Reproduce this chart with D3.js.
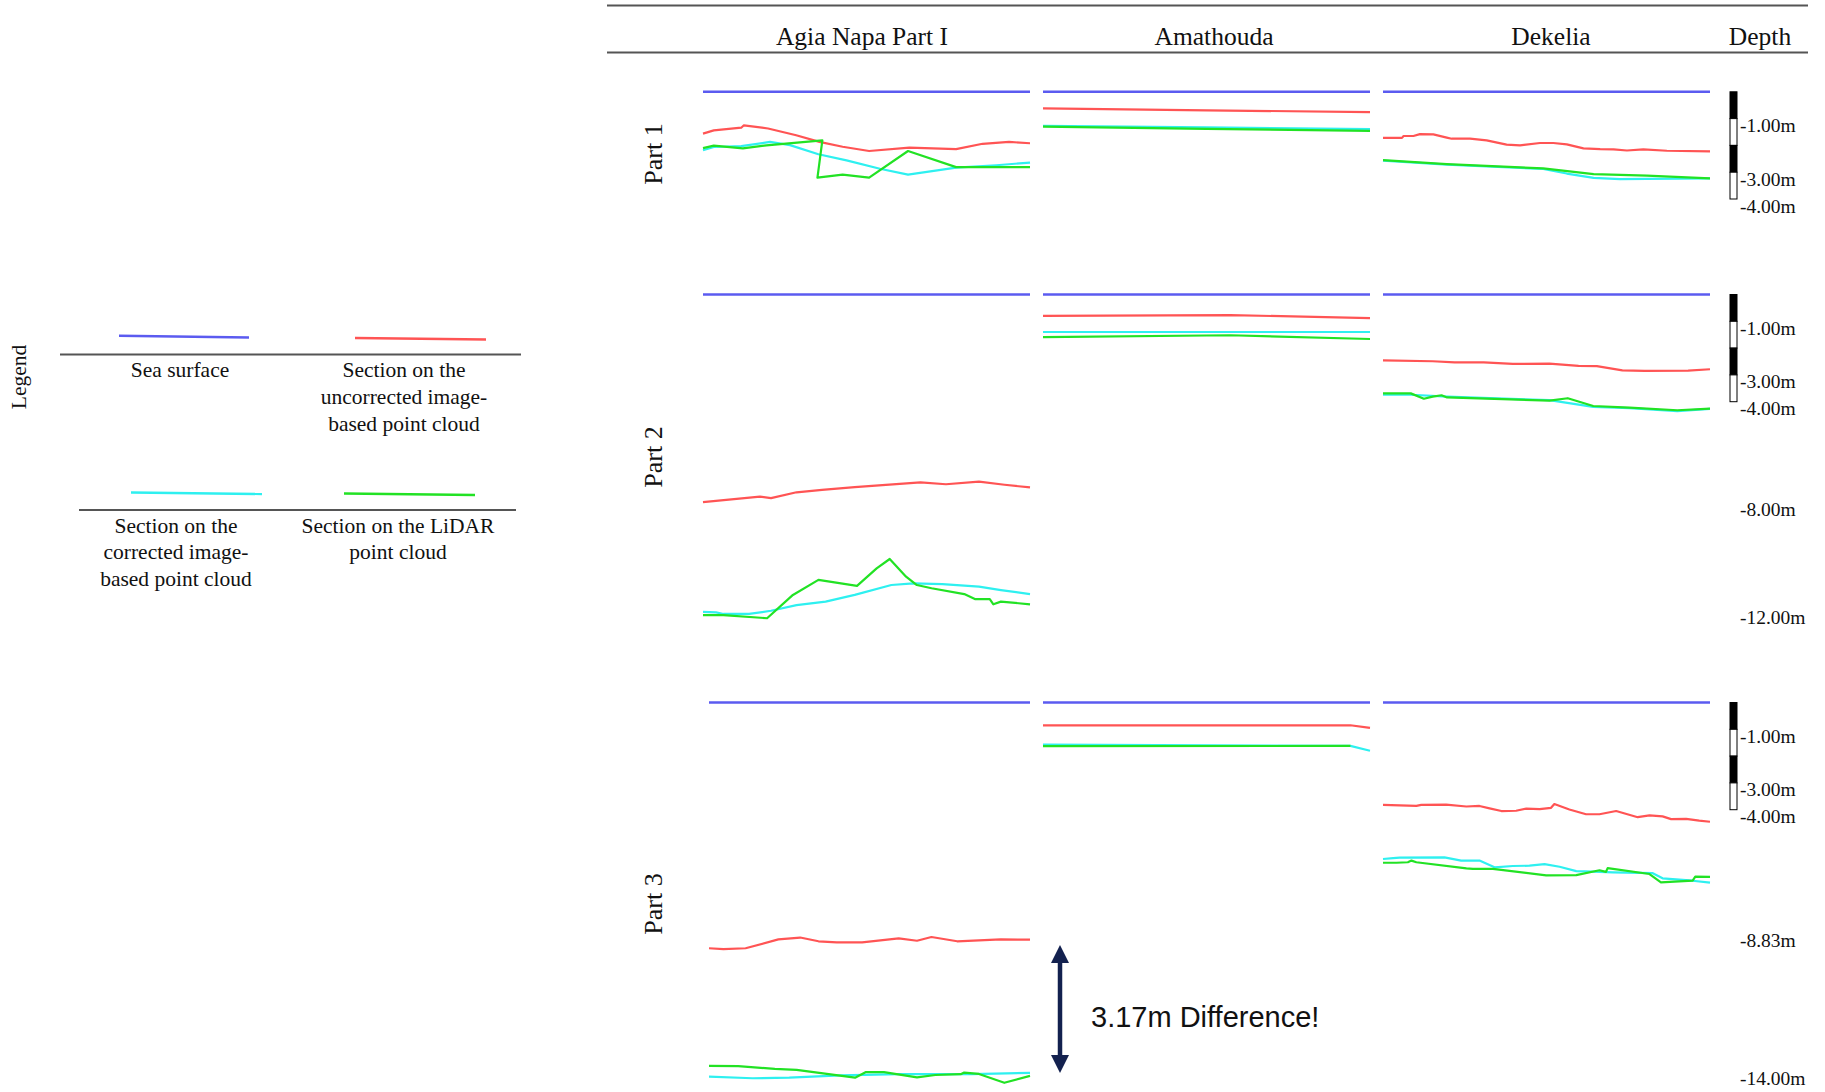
<!DOCTYPE html>
<html>
<head>
<meta charset="utf-8">
<script src="https://cdn.jsdelivr.net/npm/d3@7"></script>
<style>
  body { margin: 0; background: #fff; }
  svg text { font-family: "Liberation Serif", "Times New Roman", serif; fill: #111; }
</style>
</head>
<body>
<svg id="chart" width="1825" height="1092"></svg>
<script>
// ---- Labels ----
const sites = ["Agia Napa Part I", "Amathouda", "Dekelia"];
const parts = ["Part 1", "Part 2", "Part 3"];
const seriesNames = ["Sea surface", "Section on the uncorrected image-based point cloud",
  "Section on the corrected image-based point cloud", "Section on the LiDAR point cloud"];
const legendLines = [
  ["Sea surface"],
  ["Section on the", "uncorrected image-", "based point cloud"],
  ["Section on the", "corrected image-", "based point cloud"],
  ["Section on the LiDAR", "point cloud"]
];
const seriesColors = ["#5b5bf0", "#ff5454", "#2ef0f0", "#22e224"];

// ---- Depth axis labels per part (m) ----
const depthLabelsPart1 = [-1, -3, -4];
const depthLabelsPart2 = [-1, -3, -4, -8, -12];
const depthLabelsPart3 = [-1, -3, -4, -8.83, -14];
const scaleBarStops = [0, -1, -2, -3, -4];

// ---- Profiles: [distance along section (%), depth (m)] ----
const seaSurface = [[0, 0], [100, 0]];

// Part 1
const agia1Uncorrected = [[0,-1.56],[3.3,-1.44],[11.7,-1.34],[12.5,-1.25],[19.9,-1.37],[28.5,-1.62],[35.6,-1.87],[42.7,-2.05],[50.8,-2.21],[63.1,-2.08],[77.4,-2.14],[85.5,-1.94],[93.6,-1.87],[100,-1.92]];
const agia1Corrected = [[0,-2.18],[3.3,-2.06],[11.7,-2.03],[20.5,-1.87],[26.6,-1.99],[35.3,-2.33],[43.9,-2.56],[54.1,-2.87],[62.7,-3.09],[77.4,-2.83],[89.7,-2.74],[100,-2.64]];
const agia1Lidar = [[0,-2.10],[3.3,-2.01],[12.2,-2.11],[19.4,-2.00],[36.5,-1.81],[35.0,-3.20],[42.7,-3.09],[50.8,-3.20],[62.7,-2.21],[77.4,-2.81],[89.7,-2.81],[100,-2.81]];

const amath1Uncorrected = [[0,-0.62],[50,-0.69],[100,-0.76]];
const amath1Corrected = [[0,-1.27],[50,-1.33],[100,-1.39]];
const amath1Lidar = [[0,-1.30],[50,-1.38],[100,-1.46]];

const dek1Uncorrected = [[0,-1.72],[5.8,-1.72],[6.3,-1.65],[9.3,-1.65],[11.3,-1.58],[15.4,-1.59],[19.5,-1.71],[21.0,-1.75],[26.6,-1.75],[31.7,-1.81],[37.8,-1.97],[41.9,-2.00],[48.0,-1.91],[52.1,-1.91],[56.2,-1.96],[61.3,-2.11],[66.4,-2.14],[70.5,-2.15],[74.6,-2.19],[79.6,-2.15],[86.8,-2.20],[100,-2.22]];
const dek1Corrected = [[0,-2.57],[19.5,-2.72],[49.0,-2.88],[56.2,-3.05],[64.4,-3.21],[72.5,-3.26],[80.7,-3.25],[100,-3.23]];
const dek1Lidar = [[0,-2.55],[19.5,-2.70],[49.0,-2.86],[64.4,-3.07],[80.7,-3.13],[100,-3.23]];

// Part 2
const agia2Uncorrected = [[0,-7.75],[17.4,-7.54],[20.8,-7.60],[28.6,-7.38],[36.4,-7.29],[46.4,-7.19],[66.5,-7.01],[74.3,-7.08],[84.4,-6.98],[92.2,-7.10],[100,-7.20]];
const agia2Corrected = [[0,-11.84],[4.0,-11.86],[6.25,-11.92],[14.1,-11.92],[20.8,-11.80],[28.6,-11.59],[37.5,-11.46],[46.4,-11.21],[57.6,-10.84],[64.3,-10.78],[73.2,-10.81],[84.4,-10.90],[91.1,-11.03],[100,-11.18]];
const agia2Lidar = [[0,-11.96],[6.25,-11.96],[19.6,-12.08],[27.5,-11.21],[35.3,-10.65],[47.1,-10.87],[53.1,-10.22],[57.1,-9.87],[62.1,-10.53],[65.4,-10.84],[69.9,-10.96],[79.9,-11.18],[83.3,-11.37],[87.7,-11.37],[88.8,-11.56],[91.1,-11.46],[100,-11.56]];

const amath2Uncorrected = [[0,-0.80],[57.3,-0.77],[100,-0.88]];
const amath2Corrected = [[0,-1.40],[57.3,-1.40],[100,-1.40]];
const amath2Lidar = [[0,-1.59],[57.3,-1.52],[100,-1.66]];

const dek2Uncorrected = [[0,-2.46],[15.2,-2.49],[21.9,-2.53],[30.8,-2.53],[39.7,-2.59],[50.9,-2.58],[59.8,-2.66],[65.4,-2.67],[73.2,-2.83],[79.9,-2.85],[93.3,-2.84],[100,-2.79]];
const dek2Corrected = [[0,-3.74],[8.5,-3.74],[19.6,-3.81],[50.9,-3.94],[64.3,-4.19],[75.4,-4.24],[90.0,-4.35],[100,-4.27]];
const dek2Lidar = [[0,-3.69],[8.5,-3.69],[12.5,-3.89],[15.2,-3.81],[17.9,-3.76],[19.6,-3.84],[50.9,-3.96],[56.5,-3.87],[64.3,-4.16],[75.4,-4.22],[90.0,-4.32],[100,-4.26]];

// Part 3
const agia3Uncorrected = [[0,-9.17],[4.5,-9.20],[11.4,-9.17],[21.6,-8.84],[28.4,-8.77],[34.1,-8.91],[39.8,-8.95],[47.7,-8.95],[59.1,-8.80],[64.8,-8.89],[69.3,-8.75],[77.3,-8.91],[90.9,-8.84],[100,-8.85]];
const agia3Corrected = [[0,-13.96],[13.6,-14.02],[25.0,-14.00],[40.9,-13.91],[59.1,-13.87],[81.8,-13.87],[100,-13.82]];
const agia3Lidar = [[0,-13.56],[9.1,-13.57],[20.5,-13.67],[27.3,-13.71],[45.5,-14.00],[48.9,-13.79],[54.5,-13.79],[64.8,-13.99],[70.5,-13.90],[78.4,-13.87],[79.5,-13.81],[84.1,-13.86],[92.0,-14.19],[100,-13.93]];

const amath3Uncorrected = [[0,-0.85],[94.0,-0.85],[100,-0.95]];
const amath3Corrected = [[0,-1.57],[94.0,-1.62],[100,-1.80]];
const amath3Lidar = [[0,-1.63],[94.0,-1.62]];

const dek3Uncorrected = [[0,-3.82],[10.2,-3.86],[11.7,-3.82],[19.3,-3.81],[25.5,-3.88],[29.5,-3.86],[32.6,-3.95],[36.2,-4.05],[40.7,-4.04],[43.8,-3.96],[47.9,-3.98],[51.4,-3.93],[52.4,-3.79],[57.0,-3.99],[62.1,-4.17],[66.2,-4.17],[71.3,-4.05],[77.9,-4.28],[81.5,-4.21],[85.5,-4.25],[88.1,-4.35],[92.7,-4.34],[96.7,-4.41],[100,-4.45]];
const dek3Corrected = [[0,-5.84],[3.1,-5.81],[5.1,-5.79],[18.8,-5.78],[23.9,-5.90],[29.5,-5.90],[34.1,-6.15],[39.7,-6.10],[44.8,-6.09],[49.4,-6.03],[54.0,-6.13],[59.1,-6.29],[64.2,-6.31],[70.3,-6.34],[82.5,-6.37],[85.5,-6.56],[94.7,-6.65],[100,-6.72]];
const dek3Lidar = [[0,-5.98],[4.1,-5.98],[7.6,-5.96],[8.7,-5.90],[10.2,-5.96],[25.5,-6.19],[27.5,-6.21],[33.6,-6.21],[49.9,-6.45],[59.1,-6.44],[66.2,-6.26],[68.2,-6.32],[68.7,-6.18],[81.5,-6.40],[85.0,-6.71],[94.7,-6.65],[95.5,-6.50],[100,-6.51]];

// Annotated gap in Agia Napa Part 3 (m)
const differenceLabel = "3.17m Difference!";
const differenceSpan = [-9.05, -13.82];

// ---- Layout ----
const svg = d3.select("#chart");
const pxPerMetre = 26.8;
const seaY = [91.8, 294.5, 702.5];
const partDepth = [4, 12, 14.3];
const colRange = [[703, 1030], [1043, 1370], [1383, 1710]];
const part3FirstColStart = 709;

const depthLabels = [depthLabelsPart1, depthLabelsPart2, depthLabelsPart3];
const profiles = [
  [[agia1Uncorrected, agia1Corrected, agia1Lidar], [amath1Uncorrected, amath1Corrected, amath1Lidar], [dek1Uncorrected, dek1Corrected, dek1Lidar]],
  [[agia2Uncorrected, agia2Corrected, agia2Lidar], [amath2Uncorrected, amath2Corrected, amath2Lidar], [dek2Uncorrected, dek2Corrected, dek2Lidar]],
  [[agia3Uncorrected, agia3Corrected, agia3Lidar], [amath3Uncorrected, amath3Corrected, amath3Lidar], [dek3Uncorrected, dek3Corrected, dek3Lidar]]
];

const yScales = partDepth.map((d, i) =>
  d3.scaleLinear().domain([0, -d]).range([seaY[i], seaY[i] + d * pxPerMetre]));

// depth labels use a plain hyphen for the sign
const fmtDepth = d3.formatLocale({ decimal: ".", thousands: ",", grouping: [3],
  currency: ["", ""], minus: "-" }).format(".2f");

// ---- Header rules and titles ----
svg.append("line").attr("x1", 607).attr("x2", 1808).attr("y1", 5.5).attr("y2", 5.5)
  .attr("stroke", "#555").attr("stroke-width", 2.2);
svg.append("line").attr("x1", 607).attr("x2", 1808).attr("y1", 52.5).attr("y2", 52.5)
  .attr("stroke", "#555").attr("stroke-width", 2.2);

const headerX = [862, 1214, 1551, 1760];
[...sites, "Depth"].forEach((s, i) => {
  svg.append("text").attr("x", headerX[i]).attr("y", 45)
    .attr("text-anchor", "middle").attr("font-size", 25.5).text(s);
});

// ---- Part labels ----
const partLabelY = [154, 457, 904];
parts.forEach((p, i) => {
  svg.append("text")
    .attr("transform", `translate(662,${partLabelY[i]}) rotate(-90)`)
    .attr("text-anchor", "middle").attr("font-size", 26).text(p);
});

// ---- Profiles ----
const line = d3.line().curve(d3.curveLinear);
profiles.forEach((row, r) => {
  const y = yScales[r];
  row.forEach((series, c) => {
    const range = (r === 2 && c === 0) ? [part3FirstColStart, colRange[c][1]] : colRange[c];
    const x = d3.scaleLinear().domain([0, 100]).range(range);
    const g = svg.append("g");
    line.x(d => x(d[0])).y(d => y(d[1]));
    g.append("path").attr("d", line(seaSurface)).attr("fill", "none")
      .attr("stroke", seriesColors[0]).attr("stroke-width", 2.6);
    series.forEach((data, k) => {
      g.append("path").attr("d", line(data)).attr("fill", "none")
        .attr("stroke", seriesColors[k + 1]).attr("stroke-width", 2.2)
        .attr("stroke-linejoin", "round");
    });
  });

  // Depth scale bar (0 to -4 m, alternating black/white metres)
  const barX = 1730, barW = 7;
  const segs = d3.pairs(scaleBarStops);
  svg.append("g").selectAll("rect").data(segs).join("rect")
    .attr("x", barX).attr("width", barW)
    .attr("y", d => y(d[0])).attr("height", d => y(d[1]) - y(d[0]))
    .attr("fill", (d, i) => i % 2 === 0 ? "#000" : "#fff")
    .attr("stroke", "#000").attr("stroke-width", 1);

  // Depth labels
  svg.append("g").selectAll("text").data(depthLabels[r]).join("text")
    .attr("x", 1740)
    .attr("y", d => y(d) + (d >= -4 ? 7 : 1))
    .attr("dominant-baseline", "central")
    .attr("font-size", 19.5)
    .text(d => fmtDepth(d) + "m");
});

// ---- Difference annotation ----
const yA = yScales[2];
const arrowX = 1060;
const aTop = yA(differenceSpan[0]), aBot = yA(differenceSpan[1]);
const navy = "#13214f";
svg.append("line").attr("x1", arrowX).attr("x2", arrowX)
  .attr("y1", aTop + 14).attr("y2", aBot - 14)
  .attr("stroke", navy).attr("stroke-width", 4.5);
svg.append("path").attr("fill", navy)
  .attr("d", `M${arrowX},${aTop} L${arrowX - 9},${aTop + 18} L${arrowX + 9},${aTop + 18} Z`);
svg.append("path").attr("fill", navy)
  .attr("d", `M${arrowX},${aBot} L${arrowX - 9},${aBot - 18} L${arrowX + 9},${aBot - 18} Z`);
svg.append("text").attr("x", 1091).attr("y", 1017)
  .attr("dominant-baseline", "central")
  .style("font-family", "'Liberation Sans', Arial, sans-serif")
  .attr("font-size", 29).text(differenceLabel);

// ---- Legend ----
const legend = svg.append("g");
legend.append("text")
  .attr("transform", "translate(26,377) rotate(-90)")
  .attr("text-anchor", "middle").attr("font-size", 21.5).text("Legend");

const swatches = [
  { x1: 119, x2: 249, y1: 335.8, y2: 337.5 },
  { x1: 355, x2: 486, y1: 338, y2: 339.5 },
  { x1: 131, x2: 262, y1: 492.5, y2: 494 },
  { x1: 344, x2: 475, y1: 493.5, y2: 495 }
];
const labelCx = [180, 404, 176, 398];
const labelTop = [370, 370, 525.5, 525.5];
swatches.forEach((s, i) => {
  legend.append("line").attr("x1", s.x1).attr("x2", s.x2).attr("y1", s.y1).attr("y2", s.y2)
    .attr("stroke", seriesColors[i]).attr("stroke-width", 2.4);
  legendLines[i].forEach((t, j) => {
    legend.append("text").attr("x", labelCx[i]).attr("y", labelTop[i] + j * 26.8)
      .attr("text-anchor", "middle").attr("dominant-baseline", "central")
      .attr("font-size", 21.5).text(t);
  });
});
legend.append("line").attr("x1", 60).attr("x2", 521).attr("y1", 354.5).attr("y2", 354.5)
  .attr("stroke", "#555").attr("stroke-width", 1.8);
legend.append("line").attr("x1", 79).attr("x2", 516).attr("y1", 510).attr("y2", 510)
  .attr("stroke", "#555").attr("stroke-width", 1.8);
</script>
</body>
</html>
